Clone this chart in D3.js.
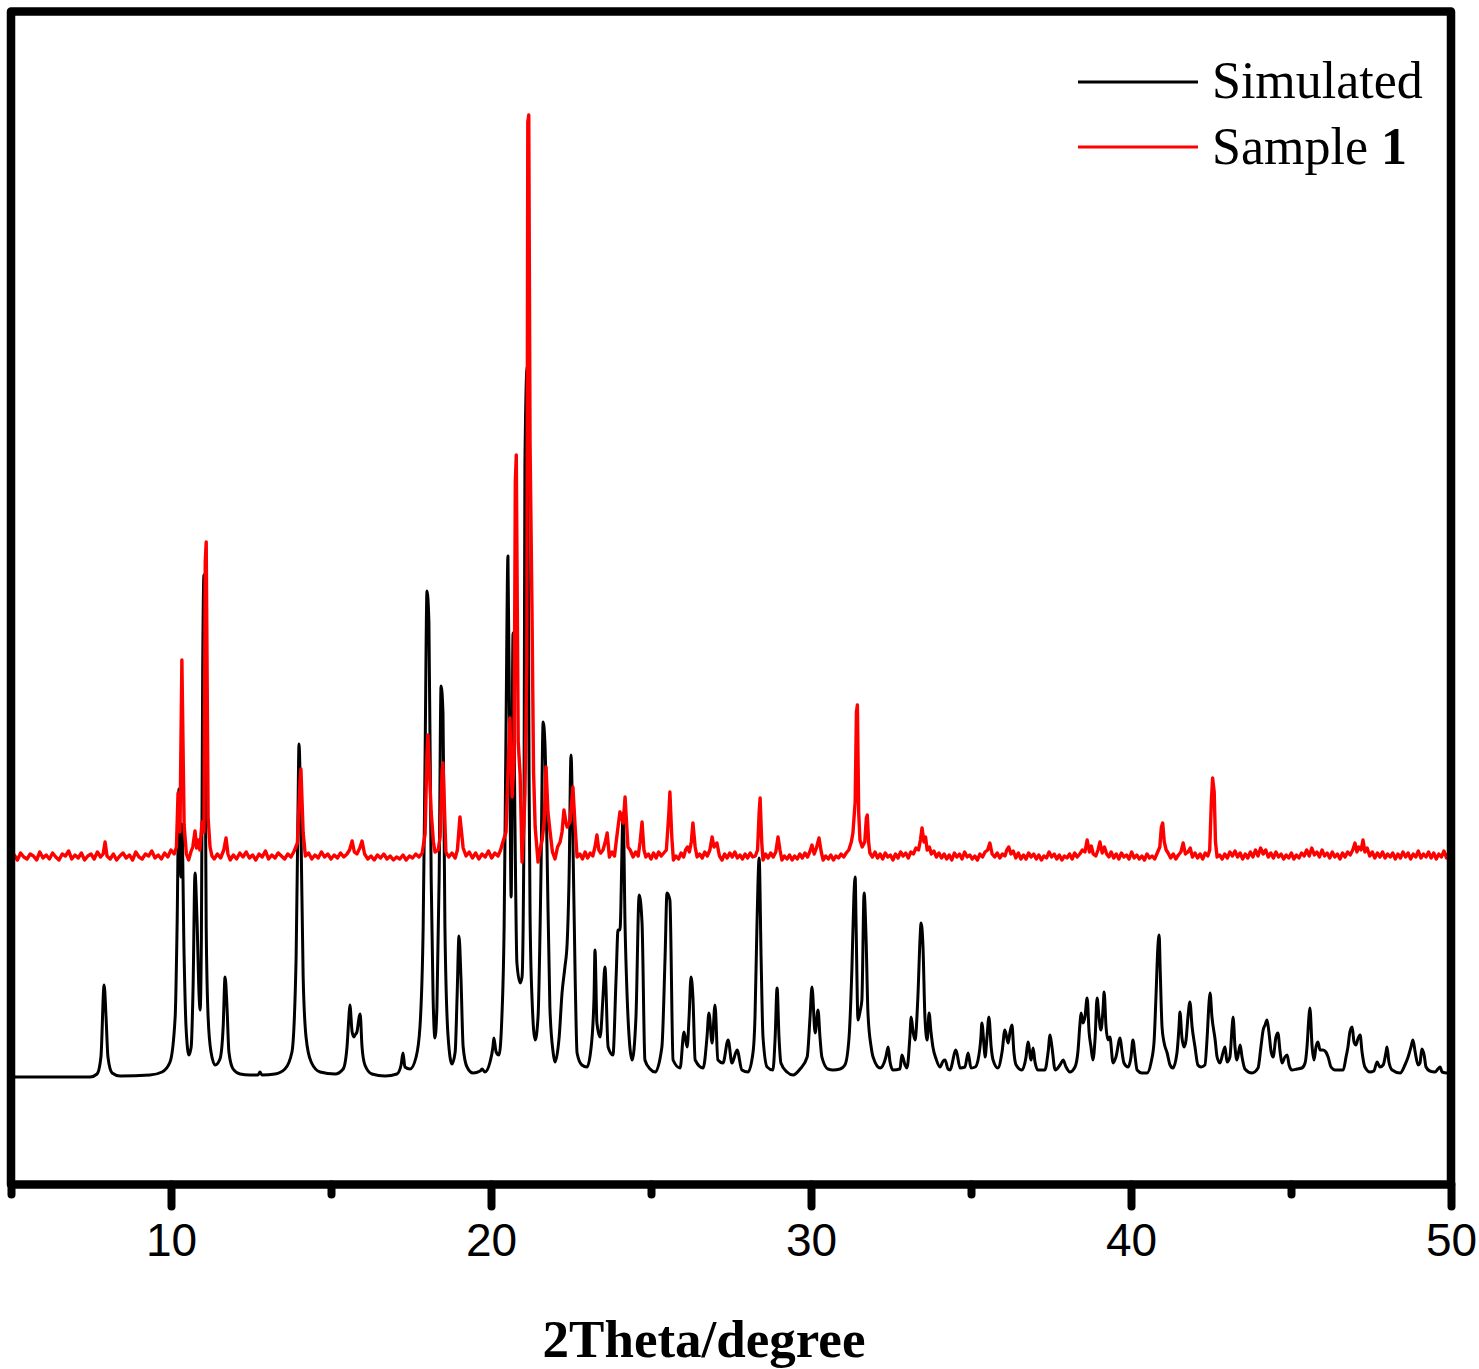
<!DOCTYPE html>
<html>
<head>
<meta charset="utf-8">
<script src="https://cdnjs.cloudflare.com/ajax/libs/d3/7.8.5/d3.min.js"></script>
<style>
  body { margin: 0; background: #fff; }
</style>
</head>
<body>
<div id="chart"></div>
<script>
// tick values
var majorTicks = [10, 20, 30, 40, 50];
var minorTicks = [5, 15, 25, 35, 45];

// legend
var seriesNames = ["Simulated", "Sample "];
var seriesColors = ["#000000", "#ff0000"];

// vertical offset of the measured pattern above the simulated one (a.u.)
var sampleOffset = 215;

// simulated pattern [2theta, intensity]
var simulated = [
  [5.0,0],[7.47,0],[7.69,3],[7.81,20],[7.91,92],[7.97,60],[8.03,20],[8.16,4],[8.41,1],
  [9.34,2],[9.72,5],[9.97,15],[10.13,60],[10.19,150],[10.25,288],[10.31,200],[10.34,253],[10.41,120],
  [10.47,50],[10.56,22],[10.63,30],[10.69,90],[10.75,204],[10.81,160],[10.88,80],[10.91,67],
  [10.95,140],[10.99,404],[11.03,502],[11.06,380],[11.1,150],[11.16,60],[11.25,25],[11.38,12],
  [11.53,18],[11.63,50],[11.69,100],[11.75,70],[11.81,25],[11.94,8],[12.16,3],[12.47,2],[12.72,2],
  [12.78,5],[12.84,2],[13.25,3],[13.56,8],[13.78,25],[13.91,120],[13.97,270],[14.0,333],[14.06,250],
  [14.13,100],[14.22,40],[14.38,15],[14.66,5],[15.13,3],[15.38,8],[15.5,30],[15.56,60],[15.59,72],
  [15.66,45],[15.72,40],[15.75,42],[15.81,45],[15.88,60],[15.91,63],[15.97,30],[16.06,12],[16.28,3],
  [16.69,1],[17.06,3],[17.19,12],[17.25,24],[17.31,10],[17.47,8],[17.66,20],[17.78,50],[17.88,150],
  [17.94,320],[18.0,486],[18.06,455],[18.13,200],[18.19,80],[18.25,39],[18.31,70],[18.38,200],
  [18.44,391],[18.5,364],[18.56,150],[18.66,40],[18.78,13],[18.88,25],[18.94,80],[19.0,141],[19.06,100],
  [19.13,30],[19.25,10],[19.44,4],[19.66,6],[19.72,8],[19.81,5],[19.97,15],[20.06,30],[20.09,39],
  [20.16,25],[20.25,22],[20.34,60],[20.41,150],[20.47,350],[20.53,521],[20.59,300],[20.63,180],
  [20.69,444],[20.75,250],[20.81,114],[20.91,94],[20.97,100],[21.03,250],[21.06,612],[21.13,710],
  [21.19,300],[21.22,164],[21.28,80],[21.38,37],[21.47,60],[21.56,200],[21.63,355],[21.69,330],
  [21.75,230],[21.84,70],[21.94,25],[22.0,15],[22.13,40],[22.22,84],[22.31,110],[22.38,134],[22.44,200],
  [22.5,322],[22.56,237],[22.63,100],[22.69,24],[22.84,12],[23.0,10],[23.13,30],[23.22,80],[23.25,127],
  [23.31,54],[23.41,40],[23.5,80],[23.56,110],[23.66,30],[23.81,22],[23.91,100],[23.97,147],[24.03,147],
  [24.13,264],[24.19,150],[24.25,84],[24.34,30],[24.41,17],[24.53,60],[24.63,182],[24.72,154],[24.81,17],
  [24.97,8],[25.13,5],[25.34,30],[25.44,120],[25.5,184],[25.59,177],[25.69,17],[25.91,9],[26.03,45],
  [26.13,30],[26.19,60],[26.25,100],[26.31,80],[26.38,17],[26.63,9],[26.75,40],[26.81,64],[26.91,34],
  [27.0,72],[27.09,17],[27.25,14],[27.41,37],[27.53,14],[27.69,27],[27.84,7],[28.03,5],[28.19,25],
  [28.25,60],[28.31,150],[28.38,219],[28.44,120],[28.5,40],[28.63,10],[28.81,7],[28.88,40],[28.94,89],
  [29.0,40],[29.06,14],[29.25,5],[29.44,2],[29.66,8],[29.88,20],[29.97,60],[30.03,90],[30.13,44],
  [30.22,67],[30.28,40],[30.34,20],[30.53,8],[30.69,7],[30.91,8],[31.06,12],[31.19,40],[31.28,110],
  [31.34,180],[31.38,200],[31.41,150],[31.47,57],[31.53,65],[31.59,77],[31.66,184],[31.72,140],
  [31.78,64],[31.88,30],[31.94,20],[32.16,9],[32.34,20],[32.41,30],[32.47,15],[32.56,7],[32.78,8],
  [32.84,22],[32.94,12],[33.0,9],[33.09,40],[33.13,60],[33.19,45],[33.25,37],[33.34,80],[33.41,140],
  [33.44,154],[33.5,130],[33.56,60],[33.63,37],[33.69,64],[33.75,45],[33.81,30],[33.91,18],[34.03,10],
  [34.13,16],[34.19,17],[34.28,8],[34.34,7],[34.53,27],[34.66,9],[34.81,10],[34.91,24],[35.0,9],
  [35.13,10],[35.22,17],[35.31,40],[35.34,54],[35.41,30],[35.44,20],[35.5,40],[35.56,60],[35.63,30],
  [35.69,17],[35.84,9],[35.97,25],[36.06,47],[36.16,34],[36.22,45],[36.28,52],[36.34,25],[36.41,12],
  [36.59,7],[36.72,20],[36.78,35],[36.88,17],[36.94,29],[37.0,15],[37.09,7],[37.31,7],[37.41,25],
  [37.47,42],[37.53,30],[37.63,7],[37.78,12],[37.88,17],[37.97,10],[38.09,5],[38.25,10],[38.34,25],
  [38.41,55],[38.44,64],[38.5,54],[38.56,60],[38.63,79],[38.69,45],[38.75,30],[38.81,17],[38.88,40],
  [38.94,79],[39.0,60],[39.06,47],[39.13,70],[39.16,85],[39.22,50],[39.28,37],[39.34,40],[39.44,14],
  [39.53,20],[39.66,39],[39.72,25],[39.78,14],[39.91,10],[40.0,20],[40.06,37],[40.13,20],[40.19,7],
  [40.34,4],[40.5,4],[40.63,15],[40.72,35],[40.78,80],[40.84,130],[40.88,142],[40.91,110],[40.97,50],
  [41.03,35],[41.13,24],[41.22,12],[41.31,9],[41.44,25],[41.5,50],[41.53,65],[41.59,40],[41.66,30],
  [41.72,37],[41.78,60],[41.84,75],[41.91,50],[42.0,30],[42.09,12],[42.19,10],[42.31,12],[42.38,40],
  [42.44,75],[42.47,84],[42.53,60],[42.63,37],[42.69,20],[42.78,14],[42.88,25],[42.94,30],[43.0,15],
  [43.09,20],[43.16,50],[43.19,60],[43.25,30],[43.31,17],[43.41,32],[43.47,20],[43.56,8],[43.78,4],
  [43.97,9],[44.06,30],[44.13,47],[44.19,52],[44.25,57],[44.31,45],[44.38,25],[44.44,20],[44.53,40],
  [44.59,44],[44.66,25],[44.72,14],[44.81,20],[44.88,22],[44.94,12],[45.03,7],[45.19,8],[45.34,9],
  [45.44,14],[45.5,30],[45.56,60],[45.59,69],[45.66,30],[45.72,17],[45.78,30],[45.84,35],[45.91,27],
  [46.0,27],[46.09,25],[46.16,20],[46.25,10],[46.38,7],[46.63,7],[46.72,20],[46.78,30],[46.84,45],
  [46.91,50],[46.97,35],[47.03,32],[47.09,38],[47.16,42],[47.22,25],[47.31,10],[47.47,5],[47.59,6],
  [47.69,15],[47.78,10],[47.88,12],[47.97,25],[48.0,30],[48.06,15],[48.16,7],[48.41,4],[48.56,12],
  [48.66,20],[48.75,30],[48.81,37],[48.88,25],[48.97,12],[49.03,14],[49.09,28],[49.16,22],[49.22,10],
  [49.34,6],[49.5,5],[49.59,8],[49.66,10],[49.72,5],[49.88,4],[49.97,4]
];

// measured pattern of sample 1 [2theta, intensity]
var sample1 = [
  [5.0,4],[5.1,7],[5.2,2],[5.3,9],[5.4,5],[5.5,3],[5.6,8],[5.7,6],[5.8,2],[5.9,10],[6.0,4],[6.1,7],
  [6.2,3],[6.3,9],[6.4,5],[6.5,2],[6.6,8],[6.7,6],[6.8,11],[6.9,3],[7.0,7],[7.1,4],[7.2,9],[7.3,2],
  [7.4,6],[7.5,8],[7.6,3],[7.7,10],[7.8,5],[7.88,8],[7.94,20],[8.0,6],
  [8.1,3],[8.2,8],[8.3,2],[8.4,6],[8.5,9],[8.6,4],[8.7,7],[8.8,2],[8.9,10],[9.0,5],[9.1,3],[9.2,8],
  [9.3,6],[9.4,11],[9.5,4],[9.6,7],[9.7,3],[9.8,9],[9.9,5],[10.0,12],[10.1,8],[10.17,15],
  [10.22,69],[10.28,30],[10.34,202],[10.41,37],[10.48,8],[10.55,2],[10.62,10],[10.68,15],[10.75,31],
  [10.8,14],[10.84,22],[10.9,12],[10.97,40],[11.03,30],[11.07,300],[11.1,320],[11.16,44],[11.22,15],
  [11.28,6],[11.35,3],[11.45,8],[11.55,4],[11.65,12],[11.72,24],[11.78,8],
  [11.85,2],[11.95,7],[12.05,3],[12.15,9],[12.25,5],[12.35,10],[12.45,4],[12.55,7],[12.65,2],
  [12.75,8],[12.85,5],[12.95,11],[13.05,3],[13.15,7],[13.25,4],[13.35,9],[13.45,6],[13.55,3],
  [13.65,8],[13.75,5],[13.85,11],[13.95,19],[14.03,80],[14.06,93],[14.13,29],[14.2,6],
  [14.3,9],[14.4,3],[14.5,7],[14.6,4],[14.7,10],[14.8,5],[14.9,8],[15.0,3],[15.1,7],[15.2,4],
  [15.3,9],[15.4,5],[15.5,8],[15.58,12],[15.66,21],[15.73,10],[15.81,8],[15.9,14],[15.97,21],[16.05,8],
  [16.15,3],[16.25,6],[16.35,2],[16.45,7],[16.55,4],[16.65,8],[16.75,3],[16.85,6],[16.95,2],
  [17.05,5],[17.15,3],[17.25,7],[17.35,2],[17.45,6],[17.55,4],[17.65,8],[17.75,5],[17.85,9],
  [17.94,28],[18.0,110],[18.03,127],[18.13,50],[18.2,20],[18.25,10],[18.35,12],[18.41,25],[18.47,90],
  [18.5,99],[18.59,10],[18.68,5],[18.78,9],[18.88,4],[18.95,12],[19.03,45],[19.13,14],[19.22,6],
  [19.32,10],[19.42,4],[19.52,9],[19.62,3],[19.72,8],[19.82,5],[19.92,11],[20.02,4],[20.12,9],
  [20.22,6],[20.3,12],[20.38,21],[20.47,30],[20.53,90],[20.59,144],[20.66,65],[20.72,100],[20.76,380],
  [20.79,407],[20.85,120],[20.91,87],[20.97,0],[21.03,40],[21.06,68],[21.12,200],[21.15,740],
  [21.18,747],[21.22,420],[21.28,254],[21.33,90],[21.38,35],[21.47,0],[21.55,15],[21.6,22],[21.66,40],
  [21.72,95],[21.78,50],[21.84,32],[21.92,10],[22.0,3],[22.08,15],[22.16,20],[22.22,30],[22.28,52],
  [22.34,40],[22.38,35],[22.47,40],[22.52,60],[22.56,75],[22.63,35],[22.69,5],
  [22.78,8],[22.86,3],[22.94,10],[23.02,4],[23.1,9],[23.18,6],[23.25,15],[23.31,27],[23.37,12],
  [23.43,9],[23.5,12],[23.57,20],[23.63,29],[23.7,5],[23.78,10],[23.86,6],[23.93,25],[24.03,50],
  [24.13,39],[24.19,65],[24.28,15],[24.35,12],[24.44,5],[24.52,10],[24.6,6],[24.66,20],[24.72,40],
  [24.78,12],[24.84,5],[24.92,8],[25.0,3],[25.08,9],[25.16,4],[25.24,10],[25.32,6],[25.4,9],
  [25.48,12],[25.56,50],[25.59,70],[25.65,25],[25.7,2],
  [25.78,6],[25.86,3],[25.94,9],[26.02,5],[26.08,12],[26.14,15],[26.2,10],[26.26,20],[26.31,39],
  [26.38,15],[26.44,5],[26.52,8],[26.6,4],[26.68,10],[26.76,6],[26.84,12],[26.91,25],[26.97,15],
  [27.06,19],[27.14,6],[27.22,2],[27.3,8],[27.38,4],[27.46,9],[27.54,5],[27.62,10],[27.7,4],
  [27.78,7],[27.86,3],[27.94,8],[28.02,4],[28.1,9],[28.18,5],[28.26,6],[28.33,12],[28.38,50],
  [28.41,64],[28.46,20],[28.5,2],[28.58,8],[28.66,4],[28.74,9],[28.82,5],[28.9,10],[28.97,25],
  [29.03,12],[29.09,2],[29.17,6],[29.25,3],[29.33,7],[29.41,2],[29.49,6],[29.57,3],[29.65,8],
  [29.73,4],[29.81,9],[29.89,5],[29.96,10],[30.03,17],[30.1,8],[30.17,14],[30.25,24],[30.32,10],
  [30.38,2],[30.46,6],[30.54,3],[30.62,7],[30.7,2],[30.78,6],[30.86,4],[30.94,8],[31.02,5],[31.1,9],
  [31.18,12],[31.26,20],[31.31,29],[31.38,60],[31.42,150],[31.45,157],[31.49,50],[31.53,22],[31.6,15],
  [31.68,20],[31.73,44],[31.76,47],[31.8,20],[31.84,9],
  [31.92,5],[32.0,10],[32.08,4],[32.16,8],[32.24,3],[32.32,9],[32.4,5],[32.48,7],[32.56,2],[32.64,8],
  [32.72,4],[32.8,10],[32.88,6],[32.96,9],[33.04,4],[33.12,10],[33.2,8],[33.28,14],[33.36,12],
  [33.42,22],[33.47,34],[33.53,20],[33.58,25],[33.63,12],[33.7,15],[33.76,8],[33.84,11],[33.92,5],
  [34.0,9],[34.08,4],[34.16,8],[34.24,3],[34.32,7],[34.4,2],[34.48,9],[34.56,5],[34.64,8],[34.72,3],
  [34.8,10],[34.88,5],[34.96,7],[35.04,3],[35.12,6],[35.2,2],[35.28,8],[35.36,5],[35.44,10],
  [35.52,12],[35.59,19],[35.66,8],[35.74,5],[35.82,9],[35.9,4],[35.98,8],[36.06,6],[36.12,12],
  [36.18,15],[36.25,8],[36.32,11],[36.4,4],[36.48,9],[36.56,3],[36.64,7],[36.72,3],[36.8,9],[36.88,5],
  [36.96,8],[37.04,3],[37.12,7],[37.2,2],[37.28,6],[37.36,4],[37.44,10],[37.52,5],[37.6,8],[37.68,3],
  [37.76,7],[37.84,2],[37.92,6],[38.0,4],[38.08,8],[38.16,3],[38.24,9],[38.32,5],[38.4,8],[38.48,12],
  [38.56,10],[38.63,22],[38.7,10],[38.76,16],[38.82,8],[38.9,6],[38.97,12],[39.03,20],[39.1,9],
  [39.17,15],[39.24,8],[39.31,5],[39.38,10],[39.46,4],[39.54,8],[39.62,3],[39.7,9],[39.78,5],
  [39.86,7],[39.94,3],[40.02,10],[40.1,4],[40.18,7],[40.26,3],[40.34,6],[40.42,2],[40.5,8],[40.58,4],
  [40.66,6],[40.74,3],[40.82,9],[40.9,15],[40.95,35],[40.99,39],[41.04,20],[41.1,12],[41.16,9],
  [41.24,4],[41.32,8],[41.4,3],[41.48,7],[41.56,10],[41.63,19],[41.7,8],[41.78,10],[41.85,14],
  [41.92,5],[42.0,9],[42.08,4],[42.16,8],[42.24,3],[42.32,9],[42.4,6],[42.46,12],[42.51,60],
  [42.55,84],[42.6,70],[42.64,20],[42.69,5],
  [42.77,7],[42.85,3],[42.93,8],[43.01,4],[43.09,10],[43.17,6],[43.25,11],[43.33,5],[43.41,9],
  [43.49,3],[43.57,8],[43.65,4],[43.73,10],[43.81,5],[43.89,12],[43.97,6],[44.05,14],[44.13,8],
  [44.21,12],[44.29,5],[44.37,9],[44.45,4],[44.53,10],[44.61,5],[44.69,8],[44.77,3],[44.85,7],
  [44.93,4],[45.01,9],[45.09,3],[45.17,7],[45.25,4],[45.33,9],[45.41,6],[45.49,12],[45.57,6],
  [45.65,14],[45.73,7],[45.81,10],[45.89,5],[45.97,12],[46.05,6],[46.13,9],[46.21,4],[46.29,10],
  [46.37,5],[46.45,8],[46.53,3],[46.61,9],[46.69,5],[46.77,10],[46.85,7],[46.93,12],[47.0,19],
  [47.06,10],[47.12,15],[47.19,12],[47.25,22],[47.31,10],[47.38,14],[47.46,6],[47.54,10],[47.62,4],
  [47.7,9],[47.78,5],[47.86,10],[47.94,4],[48.02,8],[48.1,5],[48.18,9],[48.26,3],[48.34,8],
  [48.42,4],[48.5,10],[48.58,5],[48.66,9],[48.74,3],[48.82,8],[48.9,5],[48.98,11],[49.06,4],
  [49.14,8],[49.22,5],[49.3,10],[49.38,4],[49.46,9],[49.54,3],[49.62,8],[49.7,5],[49.78,11],
  [49.86,4],[49.94,10],[49.98,14]
];

//svg container
var svgWidth = 1479;
var svgHeight = 1369;

// plot frame in pixels
var frame = { left: 11, right: 1451, top: 11.5, bottom: 1184.5 };

var svg = d3.select("#chart").append("svg")
    .attr("width", svgWidth)
    .attr("height", svgHeight);

var xScale = d3.scaleLinear()
    .domain([5, 50])
    .range([frame.left, frame.right]);

var yScale = d3.scaleLinear()
    .domain([-107.5, 1065.5])
    .range([frame.bottom, frame.top]);

// smooth profile for the calculated pattern, raw steps for the measured one
var simLine = d3.line()
    .x(d => xScale(d[0]))
    .y(d => yScale(d[1]))
    .curve(d3.curveMonotoneX);

var rawLine = d3.line()
    .x(d => xScale(d[0]))
    .y(d => yScale(d[1]));

// simulated pattern
svg.append("path")
    .datum(simulated)
    .attr("fill", "none")
    .attr("stroke", seriesColors[0])
    .attr("stroke-width", 3)
    .attr("stroke-linejoin", "round")
    .attr("d", simLine);

// measured pattern, shifted up
svg.append("path")
    .datum(sample1.map(d => [d[0], d[1] + sampleOffset]))
    .attr("fill", "none")
    .attr("stroke", seriesColors[1])
    .attr("stroke-width", 3.4)
    .attr("stroke-linejoin", "round")
    .attr("d", rawLine);

// frame
svg.append("rect")
    .attr("x", frame.left)
    .attr("y", frame.top)
    .attr("width", frame.right - frame.left)
    .attr("height", frame.bottom - frame.top)
    .attr("fill", "none")
    .attr("stroke", "#000")
    .attr("stroke-width", 8.5)
    .attr("stroke-linejoin", "round");

// x axis, major ticks with labels
var xAxis = d3.axisBottom(xScale)
    .tickValues(majorTicks)
    .tickSize(22)
    .tickFormat(d3.format("d"));

var axisG = svg.append("g")
    .attr("transform", `translate(0, ${frame.bottom})`)
    .call(xAxis);

axisG.select(".domain").remove();
axisG.selectAll(".tick line")
    .attr("stroke", "#000")
    .attr("stroke-width", 8)
    .attr("stroke-linecap", "round");
axisG.selectAll(".tick text")
    .attr("y", 71)
    .attr("dy", null)
    .attr("fill", "#000")
    .style("font-family", "'Liberation Sans', Arial, sans-serif")
    .style("font-size", "46px");

// minor ticks
var minorAxis = d3.axisBottom(xScale)
    .tickValues(minorTicks)
    .tickSize(10)
    .tickFormat("");

var minorG = svg.append("g")
    .attr("transform", `translate(0, ${frame.bottom})`)
    .call(minorAxis);

minorG.select(".domain").remove();
minorG.selectAll(".tick line")
    .attr("stroke", "#000")
    .attr("stroke-width", 8)
    .attr("stroke-linecap", "round");

// axis title
svg.append("text")
    .attr("x", 704)
    .attr("y", 1357)
    .attr("text-anchor", "middle")
    .style("font-family", "'Liberation Serif', 'Times New Roman', serif")
    .style("font-weight", "bold")
    .style("font-size", "53px")
    .text("2Theta/degree");

// legend
var legendRows = [
  { name: seriesNames[0], color: seriesColors[0], lineY: 82, textY: 98, bold: "" },
  { name: seriesNames[1], color: seriesColors[1], lineY: 147, textY: 164, bold: "1" }
];

var legend = svg.append("g");

legend.selectAll("line")
    .data(legendRows)
    .enter()
    .append("line")
    .attr("x1", 1078)
    .attr("x2", 1198)
    .attr("y1", d => d.lineY)
    .attr("y2", d => d.lineY)
    .attr("stroke", d => d.color)
    .attr("stroke-width", 3);

var legendText = legend.selectAll("text")
    .data(legendRows)
    .enter()
    .append("text")
    .attr("x", 1212)
    .attr("y", d => d.textY)
    .style("font-family", "'Liberation Serif', 'Times New Roman', serif")
    .style("font-size", "52px");

legendText.append("tspan").text(d => d.name);
legendText.append("tspan")
    .style("font-weight", "bold")
    .text(d => d.bold);
</script>
</body>
</html>
